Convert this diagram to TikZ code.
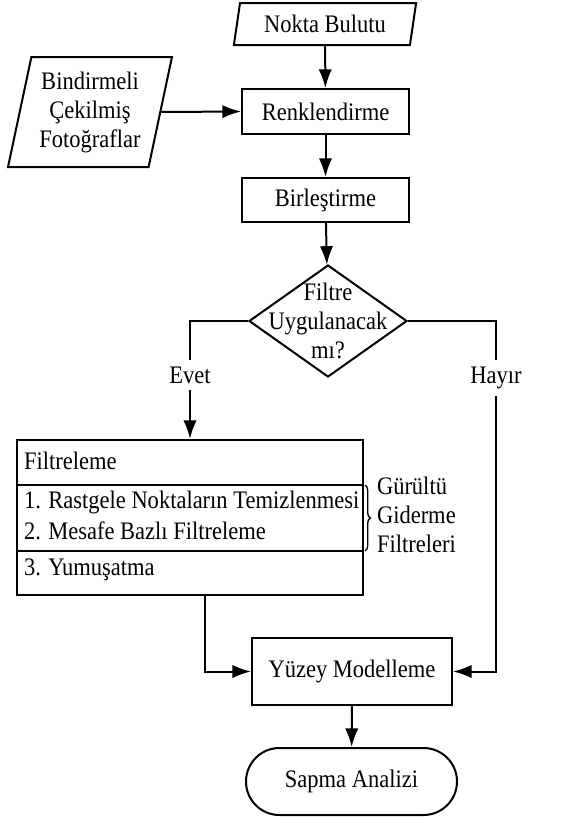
\documentclass[tikz,border=0pt]{standalone}
\usepackage{fontspec}
\setmainfont{Liberation Serif}[FakeStretch=0.893]
\usetikzlibrary{arrows.meta,shapes.geometric,shapes.misc,decorations.pathreplacing,calc}

\tikzset{
    kutu/.style={draw, rectangle, inner sep=0pt},
    veri/.style={draw, trapezium, trapezium left angle=76, trapezium right angle=104,
        trapezium stretches=true, inner sep=0pt, align=center},
    karar/.style={draw, diamond, inner sep=0pt},
    bitis/.style={draw, rounded rectangle, inner sep=0pt},
    etiket/.style={fill=white, inner xsep=2pt, inner ysep=5pt},
    satir/.style={anchor=west, inner sep=0pt}
}

\begin{document}
\begin{tikzpicture}[x=0.75pt, y=-0.75pt, >={Latex[length=14pt,width=10pt]}, line width=1.5pt,
    font=\fontsize{18.9}{21.75}\selectfont]
            \useasboundingbox (0,0) rectangle (565,818);
            % ana akis
            \node[veri, minimum width=138pt, minimum height=31.5pt] (nokta) at (325,24) {Nokta Bulutu};
            \node[veri, minimum width=123pt, minimum height=82.5pt] (foto) at (90,112) {Bindirmeli\\Çekilmiş\\Fotoğraflar};
            \node[kutu, minimum width=125.25pt, minimum height=33.75pt] (renk) at (325.5,111.5) {Renklendirme};
            \node[kutu, minimum width=125.25pt, minimum height=33pt] (birles) at (325.5,200) {Birleştirme};
            \node[karar, minimum width=118.5pt, minimum height=84pt] (karar) at (328,321) {};
            \node[align=center, inner sep=0pt] (karartxt) at (karar) {Filtre\\Uygulanacak\\mı?};
            \node[kutu, minimum width=259.5pt, minimum height=116.25pt] (filt) at (190,517.5) {};
            \node[kutu, minimum width=150pt, minimum height=50.25pt] (yuzey) at (352,671.5) {Yüzey Modelleme};
            \node[bitis, minimum width=158.25pt, minimum height=50.25pt] (sapma) at (351.5,781.5) {Sapma Analizi};

            % filtreleme kutusu
            \draw (filt.west |- 0,485) -- (filt.east |- 0,485);
            \draw (filt.west |- 0,551) -- (filt.east |- 0,551);
            \node[satir] (f0) at (23,461) {Filtreleme};
            \node[satir] (f1) at (23,502) {1. Rastgele Noktaların Temizlenmesi};
            \node[satir] (f2) at (23,531) {2. Mesafe Bazlı Filtreleme};
            \node[satir] (f3) at (23,570) {3. Yumuşatma};
            \draw[decorate, decoration={brace, amplitude=4pt}, line width=1pt] (365,485) -- (365,551);
            \node[anchor=west, align=left, inner sep=0pt] (gurultu) at (376,515) {Gürültü\\Giderme\\Filtreleri};

            % oklar
            \coordinate (hsag) at (496,321);
            \coordinate (halt) at (496,671.5);
            \draw[->] (nokta) -- (renk);
            \draw[->] (foto.east) -- (renk.west);
            \draw[->] (renk) -- (birles);
            \draw[->] (birles) -- (karar);
            \draw[->] (karar.west) -| node[etiket, pos=0.73]{Evet} (filt.north);
            \draw[->] (karar.east) -- (hsag) -- node[etiket, pos=0.163]{Hayır} (halt) -- (yuzey.east);
            \draw[->] ($(filt.south)+(15,0)$) |- (yuzey.west);
            \draw[->] (yuzey) -- (sapma);
        \end{tikzpicture}
\end{document}
